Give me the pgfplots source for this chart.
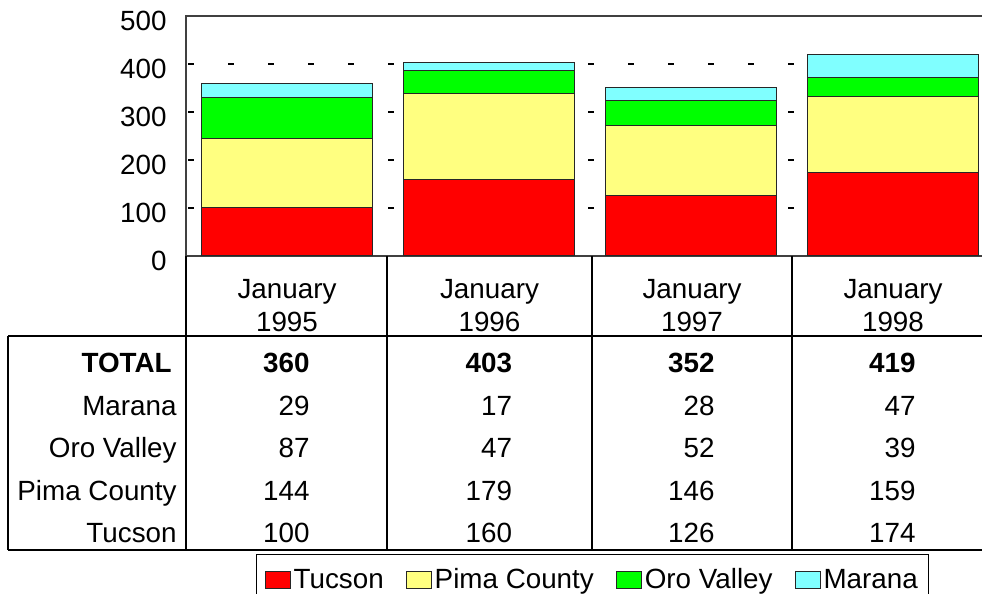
\documentclass[border=0pt]{standalone}
\usepackage{fontspec}
\setmainfont{Liberation Sans}
\usepackage{pgfplots}
\pgfplotsset{compat=1.18}
\definecolor{cTuc}{RGB}{255,0,0}
\definecolor{cPima}{RGB}{255,255,128}
\definecolor{cOro}{RGB}{0,255,0}
\definecolor{cMar}{RGB}{128,255,255}
\newcommand\fs{\fontsize{13.9}{16.5}\selectfont}
\begin{document}
\begin{tikzpicture}[font=\fs]
\clip (0pt,0pt) rectangle (491pt,-297pt);
\begin{axis}[
  at={(93pt,-8pt)}, anchor=north west,
  scale only axis, width=399pt, height=120pt,
  ybar stacked, bar width=0.85,
  xmin=-0.5, xmax=3.45, ymin=0, ymax=500,
  xtick=\empty, ytick={0,100,...,500},
  major tick length=0pt,
  ymajorgrids,
  grid style={black, line width=0.6pt, dash pattern=on 3pt off 17pt, dash phase=19pt},
  axis line style={black!75, line width=0.6pt},
  /pgf/number format/assume math mode=true,
  yticklabel style={font=\fs, anchor=east, inner sep=0pt, xshift=-9.5pt, yshift=-2.5pt},
  every axis plot/.append style={draw=black!85, line width=0.5pt,
    legend image code/.code={\draw[##1] (0pt,-4.25pt) rectangle (12.5pt,4.25pt);}},
  legend columns=4,
  legend style={at={(0.0877,-1.2417)}, anchor=north west, draw=black, line width=0.6pt,
    font=\fs, inner xsep=4pt, inner ysep=5pt,
    nodes={inner xsep=1.5pt},
    /tikz/every even column/.append style={column sep=9.5pt}},
]
\addplot[fill=cTuc] coordinates {(0,100) (1,160) (2,126) (3,174)};
\addlegendentry{Tucson}
\addplot[fill=cPima] coordinates {(0,144) (1,179) (2,146) (3,159)};
\addlegendentry{Pima County}
\addplot[fill=cOro] coordinates {(0,87) (1,47) (2,52) (3,39)};
\addlegendentry{Oro Valley}
\addplot[fill=cMar] coordinates {(0,29) (1,17) (2,28) (3,47)};
\addlegendentry{Marana}
\end{axis}
% data table
\begin{scope}[line width=0.6pt]
\draw (4pt,-168pt) -- (491pt,-168pt);
\draw (4pt,-275pt) -- (491pt,-275pt);
\draw (4pt,-168pt) -- (4pt,-275pt);
\foreach \x in {93,193.5,296,396} \draw (\x pt,-128pt) -- (\x pt,-275pt);
\end{scope}
\begin{scope}[every node/.style={inner sep=0pt}]
\foreach \c/\y in {143.5/1995,244.75/1996,346/1997,446.5/1998}{
  \node[anchor=base] at (\c pt,-149pt) {January};
  \node[anchor=base] at (\c pt,-165.75pt) {\y};
}
\node[anchor=base east,font=\fs\bfseries] at (86pt,-186pt) {TOTAL};
\node[anchor=base east] at (88.5pt,-207.5pt) {Marana};
\node[anchor=base east] at (88.5pt,-228.5pt) {Oro Valley};
\node[anchor=base east] at (88.5pt,-250pt) {Pima County};
\node[anchor=base east] at (88.5pt,-271pt) {Tucson};
\foreach \r/\t/\m/\o/\p/\u in {155/360/29/87/144/100, 256.25/403/17/47/179/160, 357.5/352/28/52/146/126, 458/419/47/39/159/174}{
  \node[anchor=base east,font=\fs\bfseries] at (\r pt,-186pt) {\t};
  \node[anchor=base east] at (\r pt,-207.5pt) {\m};
  \node[anchor=base east] at (\r pt,-228.5pt) {\o};
  \node[anchor=base east] at (\r pt,-250pt) {\p};
  \node[anchor=base east] at (\r pt,-271pt) {\u};
}
\end{scope}
\end{tikzpicture}
\end{document}
